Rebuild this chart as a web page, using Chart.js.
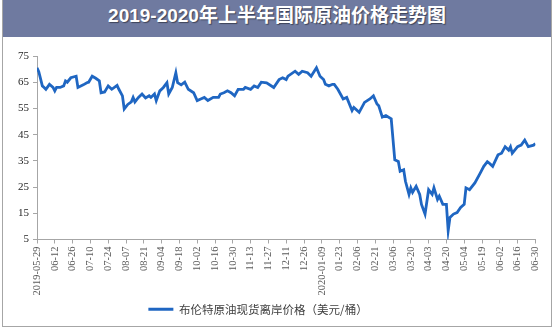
<!DOCTYPE html>
<html>
<head>
<meta charset="utf-8">
<script src="https://cdn.jsdelivr.net/npm/chart.js@4/dist/chart.umd.min.js"></script>
<style>
  html, body { margin: 0; padding: 0; background: #fff; }
  #frame {
    position: absolute; left: 2px; top: 0; width: 548px; height: 326px;
    border: 1px solid #a6a6a6; border-top: none; background: #fff;
  }
  #title {
    height: 37px; line-height: 37px; background: #6f7aa0; color: #fff;
    text-align: center; font: bold 19px "Liberation Sans", "Noto Sans CJK SC", sans-serif;
    text-shadow: 1px 1px 1px rgba(0,0,0,0.45);
  }
  #wrap { position: relative; width: 548px; height: 289px; }
</style>
</head>
<body>
<div id="frame">
  <div id="title">2019-2020年上半年国际原油价格走势图</div>
  <div id="wrap"><canvas id="oilChart"></canvas></div>
</div>
<script>
// tick labels, one every 10 trading days
const tickLabels = ['2019-05-29', '06-12', '06-26', '07-10', '07-24', '08-07', '08-21', '09-04',
    '09-18', '10-02', '10-16', '10-30', '11-13', '11-27', '12-11', '12-26', '2020-01-09',
    '01-23', '02-06', '02-21', '03-06', '03-20', '04-03', '04-20', '05-04', '05-19',
    '06-02', '06-16', '06-30'];

// trading day index (0 = 2019-05-29)
const tradingDay = [0, 1, 3, 4, 5, 7, 9, 10, 11, 13, 15, 16, 17, 19, 22, 23, 26, 28, 29, 31,
    33, 35, 36, 38, 40, 42, 45, 46, 48, 49, 51, 53, 54, 55, 57, 59, 61, 63, 64, 66,
    67, 69, 71, 73, 74, 76, 78, 79, 81, 83, 85, 88, 90, 92, 94, 96, 99, 102, 103, 105,
    107, 109, 111, 113, 116, 117, 120, 122, 124, 126, 129, 133, 136, 138, 140, 141, 145, 147, 149, 152,
    154, 157, 159, 161, 162, 164, 166, 167, 169, 172, 174, 177, 178, 181, 184, 187, 189, 191, 192, 194,
    196, 199, 201, 203, 204, 206, 207, 209, 210, 211, 213, 215, 216, 218, 220, 222, 223, 225, 226, 228,
    230, 231, 232, 234, 236, 238, 240, 241, 243, 246, 249, 251, 253, 254, 256, 259, 261, 263, 265, 266,
    267, 270, 272, 274, 276, 279, 280];

// Brent spot price, USD per barrel
const brent = [70.5, 69, 63.6, 63, 62.3, 64.2, 63, 61.7, 63, 63, 63.6, 65.5, 65, 66.7, 67.3, 63, 64, 64.8, 65, 67.3,
    66.5, 65.5, 61, 61.3, 63.6, 62.3, 63.8, 62.3, 59.8, 54.8, 56.5, 57.5, 59.2, 57.5, 59.2, 60.5, 59, 59.8, 59.2, 60.5,
    58, 61.7, 63, 64.8, 60.5, 63, 68.6, 64.8, 64, 65, 62.3, 61, 58, 58.6, 59.2, 58, 59.2, 59.2, 60.5, 61,
    61.7, 61, 59.8, 62.3, 62.3, 63, 62.3, 63.6, 63, 65, 64.8, 63, 66, 66.7, 66, 67.3, 69.2, 68, 69.2, 68.6,
    67.3, 70.5, 67.3, 66, 64.2, 63.6, 64.2, 64.2, 62.3, 58.6, 59.2, 54.2, 55.4, 53.5, 57.3, 58.6, 59.8, 56.7, 56, 51.7,
    52.3, 51, 35.4, 34.8, 31, 31.6, 27.2, 22.2, 24.7, 23, 25.3, 22.2, 18.4, 14.7, 24, 22.2, 24.7, 20.3, 21.5, 18.4,
    18.4, 8.4, 13.4, 14.7, 15.3, 17.2, 18.4, 24.7, 24, 26.6, 30.3, 32.9, 34.7, 34.2, 32.9, 37.3, 37.9, 40.4, 39.1, 40.4,
    37.9, 40.4, 41, 42.9, 40.4, 41, 41.6];

const seriesName = '布伦特原油现货离岸价格（美元/桶）';

// the legend in the picture sits a little left of centre
const legendShift = {
    id: 'legendShift',
    afterLayout(chart) {
        const lg = chart.legend;
        if (lg) { lg.left -= 16; lg.right -= 16; }
    }
};

document.addEventListener('DOMContentLoaded', function () {
    const ctx = document.getElementById('oilChart').getContext('2d');
    const points = tradingDay.map((d, i) => ({ x: d, y: brent[i] }));

    new Chart(ctx, {
        type: 'line',
        data: {
            datasets: [{
                label: seriesName,
                data: points,
                borderColor: '#1f66c2',
                backgroundColor: '#1f66c2',
                borderWidth: 2.8,
                pointRadius: 0,
                tension: 0,
                fill: false
            }]
        },
        options: {
            responsive: true,
            maintainAspectRatio: false,
            animation: false,
            layout: { padding: { left: 2, right: 8, top: 19, bottom: 1 } },
            scales: {
                x: {
                    type: 'linear',
                    min: 0,
                    max: 280,
                    afterFit: s => { s.height = 60; },
                    afterBuildTicks: s => {
                        s.ticks = tickLabels.map((_, i) => ({ value: i * 10 }));
                    },
                    ticks: {
                        autoSkip: false,
                        minRotation: 90,
                        maxRotation: 90,
                        padding: 3,
                        color: '#595959',
                        font: { family: 'Liberation Serif', size: 10.5 },
                        callback: v => tickLabels[Math.round(v / 10)]
                    },
                    grid: { display: true, drawOnChartArea: false, drawTicks: true, tickLength: 4, color: '#a6a6a6' },
                    border: { color: '#a6a6a6' }
                },
                y: {
                    min: 5,
                    max: 75,
                    afterFit: s => { s.width = 32; },
                    ticks: {
                        stepSize: 10,
                        padding: 4,
                        color: '#262626',
                        font: { family: 'Liberation Serif', size: 11 }
                    },
                    grid: { display: true, drawOnChartArea: false, drawTicks: true, tickLength: 4, color: '#a6a6a6' },
                    border: { color: '#a6a6a6' }
                }
            },
            plugins: {
                legend: {
                    display: true,
                    position: 'bottom',
                    labels: {
                        boxWidth: 25,
                        boxHeight: 3,
                        padding: 4,
                        color: '#404040',
                        font: { family: 'Noto Sans CJK SC', size: 11.5 },
                        generateLabels: chart => Chart.defaults.plugins.legend.labels.generateLabels(chart)
                            .map(l => Object.assign(l, { lineWidth: 0 }))
                    }
                },
                title: { display: false },
                tooltip: { enabled: false }
            }
        },
        plugins: [legendShift]
    });
});
</script>
</body>
</html>
